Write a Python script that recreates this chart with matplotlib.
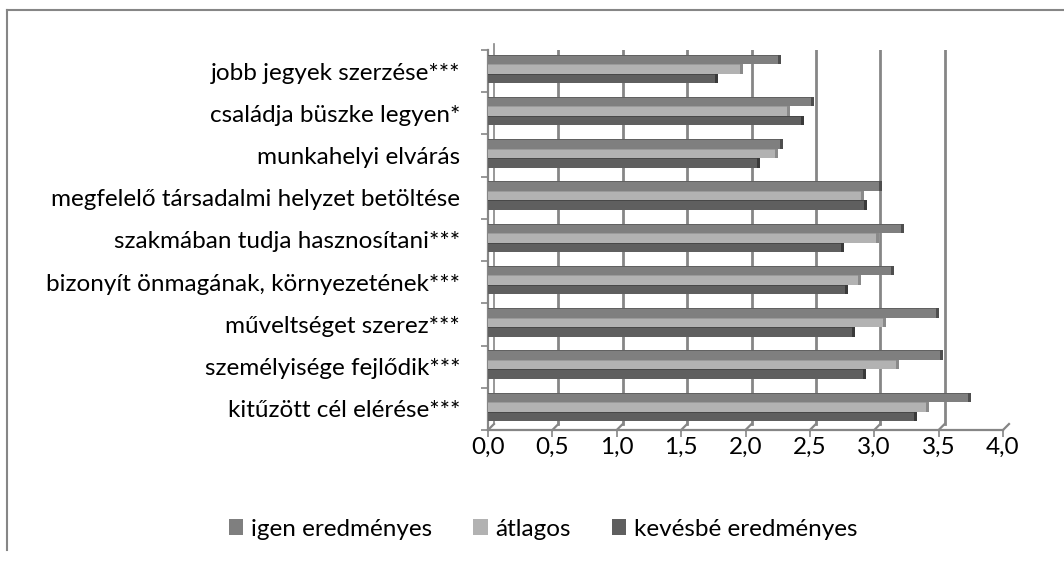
import matplotlib
matplotlib.use("Agg")
import matplotlib.pyplot as plt
from matplotlib.lines import Line2D
from matplotlib.patches import Patch
from matplotlib import transforms
import numpy as np

# categories, bottom to top
categories = [
    "kitűzött cél elérése***",
    "személyisége fejlődik***",
    "műveltséget szerez***",
    "bizonyít önmagának, környezetének***",
    "szakmában tudja hasznosítani***",
    "megfelelő társadalmi helyzet betöltése",
    "munkahelyi elvárás",
    "családja büszke legyen*",
    "jobb jegyek szerzése***",
]
igen = [3.73, 3.51, 3.48, 3.13, 3.21, 3.04, 2.27, 2.51, 2.25]
atlagos = [3.40, 3.17, 3.07, 2.87, 3.01, 2.90, 2.23, 2.32, 1.96]
kevesbe = [3.31, 2.91, 2.83, 2.77, 2.74, 2.92, 2.09, 2.43, 1.76]
series_names = ["igen eredményes", "átlagos", "kevésbé eredményes"]
xticks = [0.0, 0.5, 1.0, 1.5, 2.0, 2.5, 3.0, 3.5, 4.0]

colors = ["#7f7f7f", "#b2b2b2", "#5f5f5f"]
side_colors = ["#4e4e4e", "#8a8a8a", "#3a3a3a"]
grid_c = "#868686"
fs = 17.5

plt.rcParams["font.family"] = ["Lato", "DejaVu Sans"]

W, H = 1064, 562
fig = plt.figure(figsize=(W / 100, H / 100), dpi=100)
ax = fig.add_axes([488 / W, 1 - 430 / H, (1003 - 488) / W, (430 - 50) / H])
ax.set_xlim(0, 4)
ax.set_ylim(-0.5, 8.5)
for s in ax.spines.values():
    s.set_visible(False)

# back wall offset (3d look)
back = transforms.offset_copy(ax.transData, fig, x=6, y=6, units="dots")

# back gridlines
for v in xticks[1:]:
    ax.add_line(Line2D([v, v], [-0.5, 8.5], transform=back, color=grid_c, lw=2, zorder=1))
# floor diagonals + front floor line
inv = fig.transFigure.inverted()
for v in xticks:
    p0 = ax.transData.transform((v, -0.5))
    a = inv.transform(p0)
    b = inv.transform(p0 + np.array([6, 6]))
    fig.add_artist(Line2D([a[0], b[0]], [a[1], b[1]], color=grid_c, lw=1.6, zorder=1))
ax.plot([0, 4], [-0.5, -0.5], color=grid_c, lw=1.6, clip_on=False, zorder=1)
# left wall
ax.plot([0, 0], [-0.5, 8.5], color=grid_c, lw=1.6, clip_on=False, zorder=1)
ax.add_line(Line2D([0, 0], [-0.5, 8.5], transform=back, color=grid_c, lw=1.2, clip_on=False, zorder=1))

# bars
y = np.arange(len(categories))
h = 0.225
offs = [h, 0.0, -h]
side_w = 3 / 128.75
for vals, off, c, sc in zip([igen, atlagos, kevesbe], offs, colors, side_colors):
    ax.barh(y + 0.05 + off, vals, height=h, color=c, edgecolor="none", zorder=3)
    ax.barh(y + 0.05 + off, [side_w] * len(vals), left=vals, height=h,
            color=sc, edgecolor="none", zorder=3)
    ax.barh(y + 0.05 + off + h / 2 - 0.012, vals, height=0.024, color=sc,
            edgecolor="none", zorder=3, alpha=0.6)

# ticks
ax.set_yticks(y)
ax.set_yticklabels(categories, fontsize=fs, color="#000000")
ax.set_yticks(np.arange(-0.5, 9, 1), minor=True)
ax.tick_params(axis="y", which="major", length=0, pad=20)
ax.tick_params(axis="y", which="minor", length=5, width=1.2, color=grid_c, direction="out")
ax.set_xticks(xticks)
ax.set_xticklabels([f"{v:.1f}".replace(".", ",") for v in xticks], fontsize=fs)
ax.tick_params(axis="x", length=5, width=1.2, color=grid_c, pad=0)

# legend
handles = [Patch(facecolor=c, edgecolor="none") for c in colors]
fig.legend(handles, series_names, loc="center", bbox_to_anchor=(543 / W, 1 - 529 / H),
           ncol=3, frameon=False, fontsize=fs, handlelength=0.6, handleheight=0.6,
           handletextpad=0.3, columnspacing=1.7)

# chart area border (cropped)
fig.add_artist(Line2D([7 / W, 1], [1 - 10 / H, 1 - 10 / H], color=grid_c, lw=1.5))
fig.add_artist(Line2D([7 / W, 7 / W], [1 - 10 / H, 1 - 550 / H], color=grid_c, lw=1.5))

fig.savefig("out.png", dpi=100)
